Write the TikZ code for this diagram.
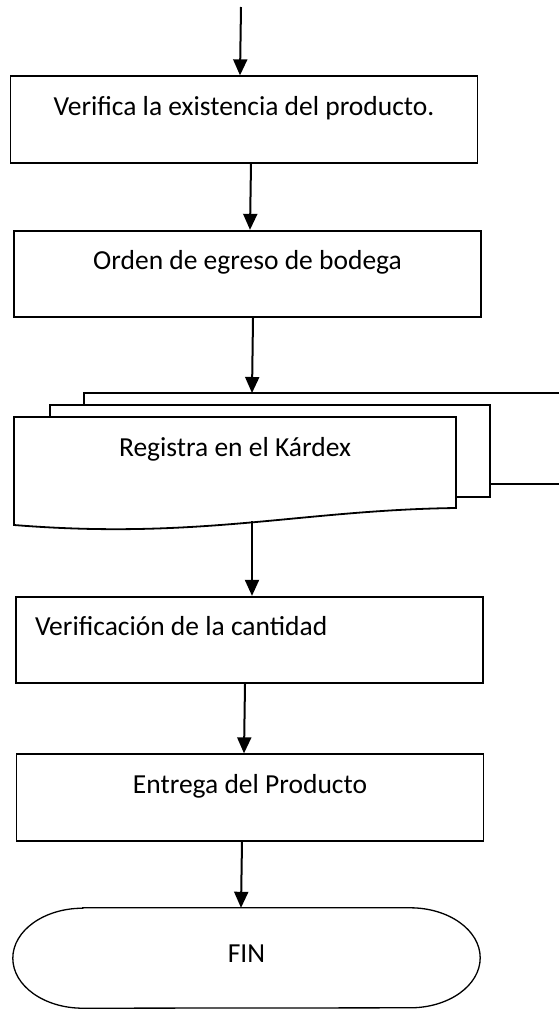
\documentclass[tikz,border=0pt]{standalone}
\usepackage{fontspec}
\setmainfont{Carlito}
\usetikzlibrary{arrows.meta}

\begin{document}
\begin{tikzpicture}[x=1pt,y=-1pt,
    proc/.style={draw, line width=1.8pt, inner sep=0pt, minimum width=467pt,
        text height=39pt, text depth=47.5pt, font=\fontsize{27.5}{33}\selectfont},
    procizq/.style={proc, inner xsep=19pt, text width=429pt, align=flush left},
    etiq/.style={inner sep=0pt, font=\fontsize{27.5}{33}\selectfont},
    terminal/.style={etiq, minimum width=467pt, minimum height=100pt,
        text height=54pt, text depth=46pt},
    hoja/.style={line width=1.8pt, fill=white},
    flecha/.style={-{Triangle[length=16pt,width=14pt]}, line width=2pt}]
        \useasboundingbox (0,0) rectangle (558,1010);

        % the boxes
        \node[proc] (verifica) at (244,119.5) {Verifica la existencia del producto.};
        \node[proc] (orden) at (247.5,274) {Orden de egreso de bodega};
        \node[procizq] (cantidad) at (249.5,640) {Verificación de la cantidad};
        \node[proc] (entrega) at (250,797.5) {Entrega del Producto};

        % the stack of documents (back, middle, front sheet)
        \draw[hoja] (84,405) -- (84,393) -- (562,393);
        \draw[hoja] (562,484) -- (490,484);
        \draw[hoja] (50,417) -- (50,405) -- (490,405) -- (490,497) -- (456,497);
        \draw[hoja] (14,417) -- (456,417) -- (456,508)
            .. controls (300,510) and (200,540) .. (14,525) -- cycle;
        \node[etiq, anchor=base] (kardex) at (235,456) {Registra en el Kárdex};
        \coordinate (docarriba) at (252,393);
        \coordinate (docabajo) at (252,521);

        % the end
        \node[terminal] (fin) at (246.5,958) {FIN};
        \draw[line width=1.3pt] ([xshift=70pt]fin.north west) -- ([xshift=-70pt]fin.north east)
            arc[start angle=90, end angle=-90, x radius=70pt, y radius=50pt]
            -- ([xshift=70pt]fin.south west)
            arc[start angle=270, end angle=90, x radius=70pt, y radius=50pt] -- cycle;

        % draw the arrows
        \coordinate (inicio) at (241,7);
        \draw[flecha] (inicio) -- ([xshift=-4pt]verifica.north);
        \draw[flecha] ([xshift=7pt]verifica.south) -- ([xshift=2.5pt]orden.north);
        \draw[flecha] ([xshift=5.5pt]orden.south) -- (docarriba);
        \draw[flecha] (docabajo) -- ([xshift=2.5pt]cantidad.north);
        \draw[flecha] ([xshift=-4.5pt]cantidad.south) -- ([xshift=-6pt]entrega.north);
        \draw[flecha] ([xshift=-8pt]entrega.south) -- ([xshift=-5.5pt]fin.north);

    \end{tikzpicture}
\end{document}
